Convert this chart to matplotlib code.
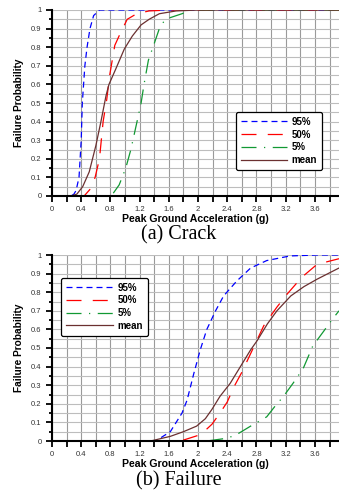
import numpy as np
import matplotlib
matplotlib.use("Agg")
import matplotlib.pyplot as plt
from matplotlib.ticker import MultipleLocator, FormatStrFormatter

# --- datos (a) Crack ---
crack_95_x = [0, 0.26, 0.30, 0.33, 0.37, 0.40, 0.415, 0.45, 0.48, 0.52, 0.57, 0.65, 3.93]
crack_95_y = [0, 0, 0.01, 0.03, 0.10, 0.30, 0.50, 0.70, 0.80, 0.90, 0.97, 1.0, 1.0]
crack_50_x = [0, 0.44, 0.53, 0.59, 0.65, 0.70, 0.75, 0.79, 0.86, 0.93, 1.03, 1.16, 1.33, 1.6, 3.93]
crack_50_y = [0, 0, 0.04, 0.10, 0.20, 0.40, 0.52, 0.65, 0.81, 0.87, 0.95, 0.98, 0.995, 1.0, 1.0]
crack_5_x = [0, 0.80, 0.83, 0.92, 1.01, 1.08, 1.17, 1.22, 1.26, 1.32, 1.40, 1.47, 1.55, 1.78, 1.9, 3.93]
crack_5_y = [0, 0, 0.01, 0.06, 0.15, 0.25, 0.41, 0.50, 0.60, 0.73, 0.82, 0.90, 0.95, 0.98, 1.0, 1.0]
crack_mean_x = [0, 0.26, 0.34, 0.42, 0.51, 0.60, 0.67, 0.74, 0.78, 0.87, 0.99, 1.10, 1.22, 1.33, 1.47, 1.7, 2.0, 3.93]
crack_mean_y = [0, 0, 0.01, 0.05, 0.13, 0.27, 0.40, 0.54, 0.60, 0.68, 0.79, 0.86, 0.92, 0.95, 0.98, 0.995, 1.0, 1.0]

# --- datos (b) Failure ---
fail_95_x = [0, 1.41, 1.50, 1.62, 1.78, 1.85, 1.94, 2.03, 2.12, 2.24, 2.35, 2.53, 2.72, 2.94, 3.26, 3.63, 3.93]
fail_95_y = [0, 0, 0.02, 0.05, 0.15, 0.22, 0.36, 0.49, 0.60, 0.70, 0.78, 0.86, 0.93, 0.97, 0.995, 1.0, 1.0]
fail_50_x = [0, 1.76, 2.0, 2.08, 2.19, 2.30, 2.40, 2.49, 2.60, 2.72, 2.90, 3.08, 3.22, 3.42, 3.63, 3.93]
fail_50_y = [0, 0, 0.03, 0.05, 0.09, 0.15, 0.21, 0.29, 0.37, 0.47, 0.62, 0.72, 0.79, 0.88, 0.95, 0.98]
fail_5_x = [0, 2.12, 2.40, 2.53, 2.72, 2.94, 3.06, 3.17, 3.30, 3.44, 3.57, 3.72, 3.83, 3.93]
fail_5_y = [0, 0, 0.015, 0.035, 0.08, 0.13, 0.19, 0.24, 0.31, 0.39, 0.51, 0.59, 0.65, 0.70]
fail_mean_x = [0, 1.35, 1.62, 1.80, 1.98, 2.10, 2.19, 2.30, 2.44, 2.58, 2.72, 2.81, 2.95, 3.08, 3.27, 3.45, 3.63, 3.93]
fail_mean_y = [0, 0, 0.025, 0.05, 0.08, 0.12, 0.17, 0.24, 0.31, 0.40, 0.49, 0.54, 0.63, 0.70, 0.78, 0.83, 0.87, 0.93]

etiquetas = ["95%", "50%", "5%", "mean"]
titulos = ["(a) Crack", "(b) Failure"]

plt.rcParams['font.family'] = ['Liberation Sans', 'DejaVu Sans']

fig = plt.figure(figsize=(3.39, 4.96), dpi=100)
ax1 = fig.add_axes([52 / 339, 1 - 196 / 496, 1 - 52 / 339, 186 / 496])
ax2 = fig.add_axes([52 / 339, 1 - 441 / 496, 1 - 52 / 339, 186 / 496])


def dibujar(ax, series, ancla, titulo, y_titulo):
    estilos = [
        dict(color='#0000ff', dashes=(4.8, 3.2)),
        dict(color='#ff0000', dashes=(12, 9)),
        dict(color='#119933', dashes=(12, 6, 1, 6)),
        dict(color='#6b3030'),
    ]
    for (x, y), est, lab in zip(series, estilos, etiquetas):
        ax.plot(x, y, lw=0.9, label=lab, **est)

    ax.set_xlim(0, 3.93)
    ax.set_ylim(0, 1)
    ax.xaxis.set_major_locator(MultipleLocator(0.4))
    ax.xaxis.set_minor_locator(MultipleLocator(0.2))
    ax.yaxis.set_major_locator(MultipleLocator(0.1))
    ax.yaxis.set_minor_locator(MultipleLocator(0.05))
    ax.xaxis.set_major_formatter(FormatStrFormatter('%g'))
    ax.yaxis.set_major_formatter(FormatStrFormatter('%g'))
    ax.grid(True, which='both', axis='x', color='#9a9a9a', lw=0.8)
    ax.grid(True, which='both', axis='y', color='#bdbdbd', lw=0.8)
    ax.set_axisbelow(True)

    for s in ['top', 'right']:
        ax.spines[s].set_visible(False)
    for s in ['left', 'bottom']:
        ax.spines[s].set_linewidth(1.5)

    ax.tick_params(axis='y', which='major', direction='out', length=4.5, width=1.3)
    ax.tick_params(axis='y', which='minor', direction='out', length=2.5, width=1.3)
    ax.tick_params(axis='x', which='both', direction='out', length=4, width=1.3)
    ax.tick_params(which='both', labelsize=5.5, labelcolor='#333333', pad=3)
    ax.set_xlabel("Peak Ground Acceleration (g)", fontsize=7.6, fontweight='bold', labelpad=1)
    ax.set_ylabel("Failure Probability", fontsize=7.3, fontweight='bold', labelpad=5)

    leg = ax.legend(loc='upper left', bbox_to_anchor=ancla, fontsize=7, handlelength=4.8,
                    labelspacing=0.28, frameon=True, fancybox=True, borderpad=0.5,
                    handletextpad=0.45, borderaxespad=0)
    leg.get_frame().set_edgecolor('black')
    leg.get_frame().set_linewidth(0.9)
    leg.get_frame().set_alpha(1)
    for t in leg.get_texts():
        t.set_fontweight('bold')

    fig.text(179 / 339, 1 - y_titulo / 496, titulo, ha='center', va='center',
             fontsize=14.5, family='Liberation Serif')


dibujar(ax1, [(crack_95_x, crack_95_y), (crack_50_x, crack_50_y),
              (crack_5_x, crack_5_y), (crack_mean_x, crack_mean_y)],
        (0.64, 0.452), titulos[0], 235)
dibujar(ax2, [(fail_95_x, fail_95_y), (fail_50_x, fail_50_y),
              (fail_5_x, fail_5_y), (fail_mean_x, fail_mean_y)],
        (0.0325, 0.878), titulos[1], 481)

fig.savefig("out.png", dpi=100)
